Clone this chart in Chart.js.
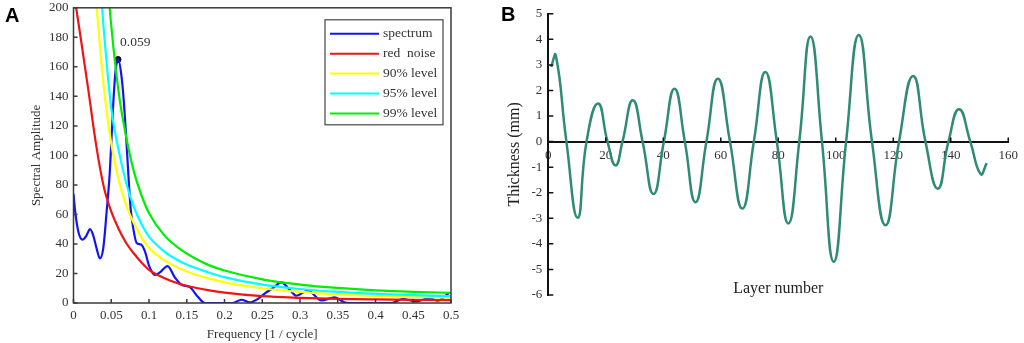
<!DOCTYPE html>
<html>
<head>
<meta charset="utf-8">
<script src="https://cdn.jsdelivr.net/npm/chart.js@4.4.1/dist/chart.umd.min.js"></script>
<style>
    html, body { margin: 0; padding: 0; background: #fff; width: 1024px; height: 343px; overflow: hidden; position: relative; }
    #wrapA { position: absolute; left: 0; top: -5px; width: 470px; height: 348px; }
    #wrapB { position: absolute; left: 480px; top: 0; width: 544px; height: 343px; }
    .tag { position: absolute; font: bold 20px "Liberation Sans", Arial, sans-serif; color: #000; }
</style>
</head>
<body>
<div id="wrapA"><canvas id="chartA"></canvas></div>
<div id="wrapB"><canvas id="chartB"></canvas></div>
<div class="tag" style="left:5px; top:4px;">A</div>
<div class="tag" style="left:501px; top:3px;">B</div>
<script>
        // ---- Panel A: spectrum vs red noise and confidence levels ----
        const specFreq = [0, 0.0022, 0.0066, 0.012, 0.0175, 0.0218, 0.026, 0.0306, 0.035, 0.0394, 0.0439, 0.048, 0.0527, 0.0558, 0.0593,
            0.0637, 0.0668, 0.0712, 0.0735, 0.0757, 0.0791, 0.0836, 0.0893, 0.0946, 0.1003, 0.1078, 0.1144, 0.1246, 0.1343, 0.1431,
            0.1541, 0.165, 0.174, 0.21, 0.2225, 0.2335, 0.245, 0.2535, 0.264, 0.2754, 0.2864, 0.2952, 0.3106, 0.3283, 0.3459,
            0.359, 0.366, 0.421, 0.436, 0.454, 0.4716, 0.4825, 0.497];
        const specAmp = [74, 62, 48, 43, 46, 50, 46, 37, 30.2, 37, 62, 88, 135.5, 157.7, 165,
            153, 135.5, 100, 80, 64, 50.7, 40.7, 39.6, 35, 25, 19, 20.7, 25, 17.3, 12.4,
            10.7, 4, 0, 0, 2.2, 0.4, 3, 6.5, 10, 14, 8.9, 4.9, 8.4, 1.8, 3.8,
            0.4, 0, 0, 2.7, 1.1, 3.3, 1.6, 6.7];

        const redFreq = [0, 0.01, 0.02, 0.03, 0.04, 0.05, 0.06, 0.07, 0.08, 0.09, 0.1, 0.12, 0.14, 0.16, 0.18, 0.2, 0.25, 0.3, 0.35, 0.4, 0.45, 0.5];
        const redAmp = [212, 178, 143, 107, 79, 62, 50, 40.5, 33.5, 27.5, 22.5, 17, 13, 10.5, 8.5, 7, 4.6, 3.5, 2.8, 2.4, 2.1, 2];

        const lvl90Freq = [0.02, 0.03, 0.04, 0.05, 0.06, 0.07, 0.08, 0.09, 0.1, 0.12, 0.14, 0.16, 0.18, 0.2, 0.25, 0.3, 0.35, 0.4, 0.45, 0.5];
        const lvl90Amp = [275, 205, 147, 108, 83, 66, 54, 44.5, 37.5, 29, 23.5, 19.5, 16.5, 14, 10, 7.5, 5.9, 4.8, 4.1, 3.6];

        const lvl95Freq = [0.03, 0.04, 0.05, 0.06, 0.07, 0.08, 0.09, 0.1, 0.12, 0.14, 0.16, 0.18, 0.2, 0.25, 0.3, 0.35, 0.4, 0.45, 0.5];
        const lvl95Amp = [255, 186, 132, 103, 81, 65, 53.5, 45, 35, 28.5, 24, 20.5, 17.5, 12.5, 9.5, 7.5, 6.2, 5.3, 4.7];

        const lvl99Freq = [0.04, 0.05, 0.06, 0.07, 0.08, 0.09, 0.1, 0.12, 0.14, 0.16, 0.18, 0.2, 0.25, 0.3, 0.35, 0.4, 0.45, 0.5];
        const lvl99Amp = [250, 188, 142, 112, 89, 73, 61, 46, 37, 30.5, 25.5, 22, 16, 12.5, 10.2, 8.6, 7.6, 6.9];

        const peakFreq = [0.059];
        const peakAmp = [165];
        const peakLabel = ['0.059'];

        const freqTicks = [0, 0.05, 0.1, 0.15, 0.2, 0.25, 0.3, 0.35, 0.4, 0.45, 0.5];
        const freqTickLabels = ['0', '0.05', '0.1', '0.15', '0.2', '0.25', '0.3', '0.35', '0.4', '0.45', '0.5'];
        const ampTicks = [0, 20, 40, 60, 80, 100, 120, 140, 160, 180, 200];

        const legendNames = ['spectrum', 'red  noise', '90% level', '95% level', '99% level'];
        const legendColors = ['#1414f0', '#f01414', '#ffff00', '#00ffff', '#00ee00'];

        // ---- Panel B: layer thickness series ----
        const layers = [1, 2.6, 6.3, 10.2, 13.3, 17.3, 20.6, 23.4, 25.8, 29.4, 32.8, 36.6, 40.2, 43.9, 47.5, 51.2, 55, 59, 63.2, 67.5,
            71.5, 75.5, 79.5, 83.5, 87.3, 91.2, 95.2, 99.3, 103.6, 108, 112.6, 117.3, 122, 126.9, 131.2, 135.5, 139.2, 142.9, 146.8, 150.4, 152.5];
        const thickness = [2.92, 3.38, 0, -2.98, 0, 1.49, 0, -0.93, 0, 1.62, 0, -2.05, 0, 2.07, 0, -2.37, 0, 2.46, 0, -2.62,
            0, 2.72, 0, -3.2, 0, 4.11, 0, -4.7, 0, 4.17, 0, -3.27, 0, 2.57, 0, -1.84, 0, 1.27, 0, -1.27, -0.84];

        const layerTicks = [0, 20, 40, 60, 80, 100, 120, 140, 160];
        const layerTickLabels = ['0', '20', '40', '60', '80', '100', '120', '140', '160'];
        const thickTicks = [-6, -5, -4, -3, -2, -1, 0, 1, 2, 3, 4, 5];
        const thickTickLabels = ['-6', '-5', '-4', '-3', '-2', '-1', '0', '1', '2', '3', '4', '5'];

        const SERIF = "'Liberation Serif', 'Times New Roman', serif";
        Chart.defaults.font.family = SERIF;
        Chart.defaults.color = '#333';

        function pairs(xs, ys) {
            return xs.map((x, i) => ({ x: x, y: ys[i] }));
        }

        /**
         * Frame, inward ticks, peak label and boxed legend for panel A.
         */
        const panelAExtras = {
            id: 'panelAExtras',
            afterDraw(chart) {
                const { ctx, chartArea: a, scales: { x, y } } = chart;
                ctx.save();
                ctx.strokeStyle = '#3a3a3a';
                ctx.lineWidth = 1.5;
                ctx.strokeRect(a.left, a.top, a.right - a.left, a.bottom - a.top);

                ctx.beginPath();
                freqTicks.forEach(v => {
                    const px = x.getPixelForValue(v);
                    ctx.moveTo(px, a.bottom);
                    ctx.lineTo(px, a.bottom - 4);
                });
                ampTicks.forEach(v => {
                    const py = y.getPixelForValue(v);
                    ctx.moveTo(a.left, py);
                    ctx.lineTo(a.left + 4, py);
                });
                ctx.stroke();

                // label next to the spectral peak
                ctx.fillStyle = '#333';
                ctx.font = '13.5px ' + SERIF;
                ctx.textBaseline = 'middle';
                ctx.textAlign = 'left';
                ctx.fillText(peakLabel[0], x.getPixelForValue(peakFreq[0]) + 2, y.getPixelForValue(peakAmp[0]) - 17.5);

                // legend box
                const bx = a.right - 126, by = a.top + 12, bw = 118, bh = 105;
                ctx.fillStyle = '#fff';
                ctx.fillRect(bx, by, bw, bh);
                ctx.strokeStyle = '#444';
                ctx.lineWidth = 1.2;
                ctx.strokeRect(bx, by, bw, bh);
                legendNames.forEach((name, i) => {
                    const ly = by + 14 + i * 19.9;
                    ctx.strokeStyle = legendColors[i];
                    ctx.lineWidth = 2;
                    ctx.beginPath();
                    ctx.moveTo(bx + 5, ly);
                    ctx.lineTo(bx + 54, ly);
                    ctx.stroke();
                    ctx.fillStyle = '#333';
                    ctx.fillText(name, bx + 58, ly);
                });
                ctx.restore();
            }
        };

        /**
         * Inward tick marks for panel B.
         */
        const panelBTicks = {
            id: 'panelBTicks',
            afterDraw(chart) {
                const { ctx, chartArea: a, scales: { x, y } } = chart;
                const y0 = y.getPixelForValue(0);
                ctx.save();
                ctx.strokeStyle = '#111';
                ctx.lineWidth = 1.5;
                ctx.beginPath();
                layerTicks.forEach(v => {
                    const px = x.getPixelForValue(v);
                    ctx.moveTo(px, y0);
                    ctx.lineTo(px, y0 - 4);
                });
                thickTicks.forEach(v => {
                    const py = y.getPixelForValue(v);
                    ctx.moveTo(a.left, py);
                    ctx.lineTo(a.left + 5, py);
                });
                ctx.stroke();
                ctx.restore();
            }
        };

        const lineStyle = {
            borderWidth: 2.2,
            pointRadius: 0,
            fill: false,
            cubicInterpolationMode: 'monotone'
        };

        new Chart(document.getElementById('chartA'), {
            type: 'line',
            data: {
                datasets: [
                    { ...lineStyle, label: '99% level', data: pairs(lvl99Freq, lvl99Amp), borderColor: legendColors[4] },
                    { ...lineStyle, label: '95% level', data: pairs(lvl95Freq, lvl95Amp), borderColor: legendColors[3] },
                    { ...lineStyle, label: '90% level', data: pairs(lvl90Freq, lvl90Amp), borderColor: legendColors[2] },
                    { ...lineStyle, label: 'red noise', data: pairs(redFreq, redAmp), borderColor: legendColors[1] },
                    { ...lineStyle, label: 'spectrum', data: pairs(specFreq, specAmp), borderColor: legendColors[0] },
                    {
                        type: 'scatter', label: 'peak', data: pairs(peakFreq, peakAmp),
                        pointRadius: 3, backgroundColor: '#111', borderColor: '#111', showLine: false
                    }
                ]
            },
            options: {
                animation: false,
                responsive: true,
                maintainAspectRatio: false,
                layout: { padding: { top: 8, right: 19, bottom: 0, left: 0 } },
                plugins: { legend: { display: false }, tooltip: { enabled: false } },
                scales: {
                    x: {
                        type: 'linear', min: 0, max: 0.5,
                        afterBuildTicks: s => { s.ticks = freqTicks.map(v => ({ value: v })); },
                        afterFit: s => { s.height = 40; },
                        ticks: { callback: (v, i) => freqTickLabels[i], padding: 5, font: { size: 13 }, maxRotation: 0, autoSkip: false },
                        grid: { display: false, drawTicks: false },
                        border: { display: false },
                        title: { display: true, text: 'Frequency [1 / cycle]', font: { size: 13 }, color: '#333', padding: { top: 0, bottom: 1 } }
                    },
                    y: {
                        type: 'linear', min: 0, max: 200,
                        afterBuildTicks: s => { s.ticks = ampTicks.map(v => ({ value: v })); },
                        afterFit: s => { s.width = 73.5; },
                        ticks: { padding: 5, font: { size: 13 } },
                        grid: { display: false, drawTicks: false },
                        border: { display: false },
                        title: { display: true, text: 'Spectral Amplitude', font: { size: 13 }, color: '#333', padding: { top: 29, bottom: 0 } }
                    }
                }
            },
            plugins: [panelAExtras]
        });

        new Chart(document.getElementById('chartB'), {
            type: 'line',
            data: {
                datasets: [{
                    label: 'Thickness',
                    data: pairs(layers, thickness),
                    borderColor: '#2f8b73',
                    borderWidth: 2.5,
                    pointRadius: 0,
                    fill: false,
                    tension: 0.5
                }]
            },
            options: {
                animation: false,
                responsive: true,
                maintainAspectRatio: false,
                layout: { padding: { top: 12, right: 11, bottom: 48, left: 0 } },
                plugins: { legend: { display: false }, tooltip: { enabled: false } },
                scales: {
                    x: {
                        type: 'linear', min: 0, max: 160,
                        position: { y: 0 },
                        afterBuildTicks: s => { s.ticks = layerTicks.map(v => ({ value: v })); },
                        afterFit: s => { s.height = 156.6; },
                        ticks: { callback: (v, i) => layerTickLabels[i], padding: 6, font: { size: 13 }, maxRotation: 0, autoSkip: false },
                        grid: { display: false, drawTicks: false },
                        border: { display: true, color: '#111', width: 2 },
                        title: { display: true, text: 'Layer number', font: { size: 16 }, color: '#222', padding: 0 }
                    },
                    y: {
                        type: 'linear', min: -6, max: 5,
                        afterBuildTicks: s => { s.ticks = thickTicks.map(v => ({ value: v })); },
                        afterFit: s => { s.width = 68.3; },
                        ticks: { callback: (v, i) => thickTickLabels[i], padding: 6, font: { size: 13 } },
                        grid: { display: false, drawTicks: false },
                        border: { display: true, color: '#111', width: 2 },
                        title: { display: true, text: 'Thickness (mm)', font: { size: 16 }, color: '#222', padding: { top: 25, bottom: 0 } }
                    }
                }
            },
            plugins: [panelBTicks]
        });
</script>
</body>
</html>
